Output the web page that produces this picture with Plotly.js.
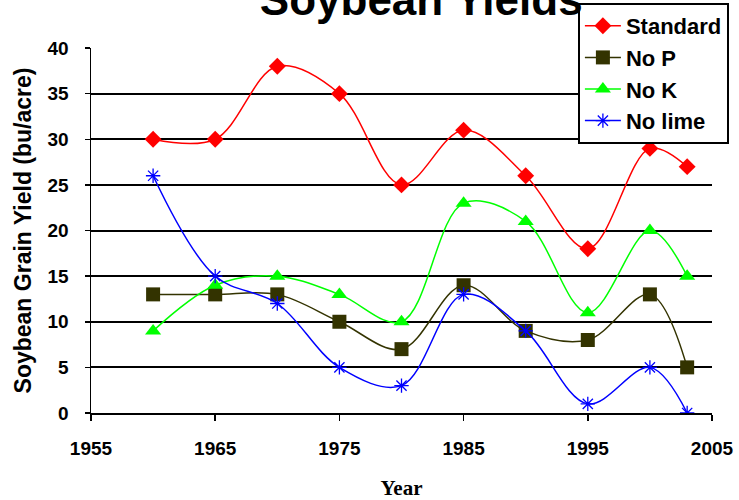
<!DOCTYPE html>
<html>
<head>
<meta charset="utf-8">
<script src="https://cdn.plot.ly/plotly-3.0.1.min.js"></script>
<style>
  html, body { margin: 0; padding: 0; background: #fff; }
  #chart { width: 739px; height: 500px; }
</style>
</head>
<body>
<div id="chart"></div>
<script>
// Soybean grain yield by treatment, 1960-2003
const years    = [1960, 1965, 1970, 1975, 1980, 1985, 1990, 1995, 2000, 2003];
const standard = [30, 30, 38, 35, 25, 31, 26, 18, 29, 27];
const noP      = [13, 13, 13, 10, 7, 14, 9, 8, 13, 5];
const noK      = [9, 14, 15, 13, 10, 23, 21, 11, 20, 15];
const noLime   = [26, 15, 12, 5, 3, 13, 9, 1, 5, 0];
const xTicks   = [1955, 1965, 1975, 1985, 1995, 2005];
const yTicks   = [0, 5, 10, 15, 20, 25, 30, 35, 40];

function series(name, y, color, symbol, size, mline, group) {
  return {
    x: years, y: y, name: name, type: 'scatter', mode: 'lines+markers',
    legendgroup: group,
    line: { color: color, width: 1.5, shape: 'spline', smoothing: 1 },
    marker: { color: color, symbol: symbol, size: size, line: mline }
  };
}

const traces = [
  series('Standard', standard, '#FF0000', 'diamond', 13, { width: 0 }, 'a'),
  series('No P', noP, '#333300', 'square', 14, { width: 0 }, 'b'),
  series('No K', noK, '#00FF00', 'triangle-up', 14, { width: 0 }, 'c'),
  series('No lime', noLime, '#0000FF', 'asterisk-open', 12, { color: '#0000FF', width: 1.3 }, 'd')
];

const layout = {
  width: 739, height: 500,
  margin: { l: 91, r: 27, t: 48, b: 87, autoexpand: false },
  paper_bgcolor: '#fff', plot_bgcolor: '#fff',
  showlegend: true,
  title: {
    text: 'Soybean Yields',
    font: { family: 'Liberation Sans, Arial, sans-serif', size: 44, color: '#000', weight: 'bold' },
    x: 0.57, xanchor: 'center', y: 1.0, yref: 'container', yanchor: 'middle'
  },
  xaxis: {
    range: [1955, 2005], tickvals: xTicks, ticktext: xTicks.map(String),
    showgrid: false, zeroline: false,
    showline: true, linecolor: '#000', linewidth: 1.5,
    ticks: 'outside', ticklen: 6, tickwidth: 1.5, tickcolor: '#000',
    ticklabelstandoff: 12,
    tickfont: { family: 'Liberation Sans, Arial, sans-serif', size: 19, color: '#000', weight: 'bold' },
    title: { text: 'Year', standoff: 22,
      font: { family: 'Liberation Serif, Times New Roman, serif', size: 21, color: '#000', weight: 'bold' } }
  },
  yaxis: {
    range: [0, 40], tickvals: yTicks, ticktext: yTicks.map(String),
    showgrid: true, gridcolor: '#000', gridwidth: 2, zeroline: false,
    showline: true, linecolor: '#000', linewidth: 1.5,
    ticks: 'outside', ticklen: 5, tickwidth: 1.5, tickcolor: '#000',
    ticklabelstandoff: 12,
    tickfont: { family: 'Liberation Sans, Arial, sans-serif', size: 19, color: '#000', weight: 'bold' },
    title: { text: 'Soybean Grain Yield (bu/acre)', standoff: 9,
      font: { family: 'Liberation Sans, Arial, sans-serif', size: 23, color: '#000', weight: 'bold' } }
  },
  legend: {
    xref: 'container', yref: 'container',
    x: 0.782, xanchor: 'left', y: 0.994, yanchor: 'top',
    bgcolor: '#fff', bordercolor: '#000', borderwidth: 2,
    tracegroupgap: 8, traceorder: 'normal', itemwidth: 36,
    font: { family: 'Liberation Sans, Arial, sans-serif', size: 22, color: '#000', weight: 'bold' }
  }
};

Plotly.newPlot('chart', traces, layout, { displayModeBar: false, staticPlot: true });
</script>
</body>
</html>
